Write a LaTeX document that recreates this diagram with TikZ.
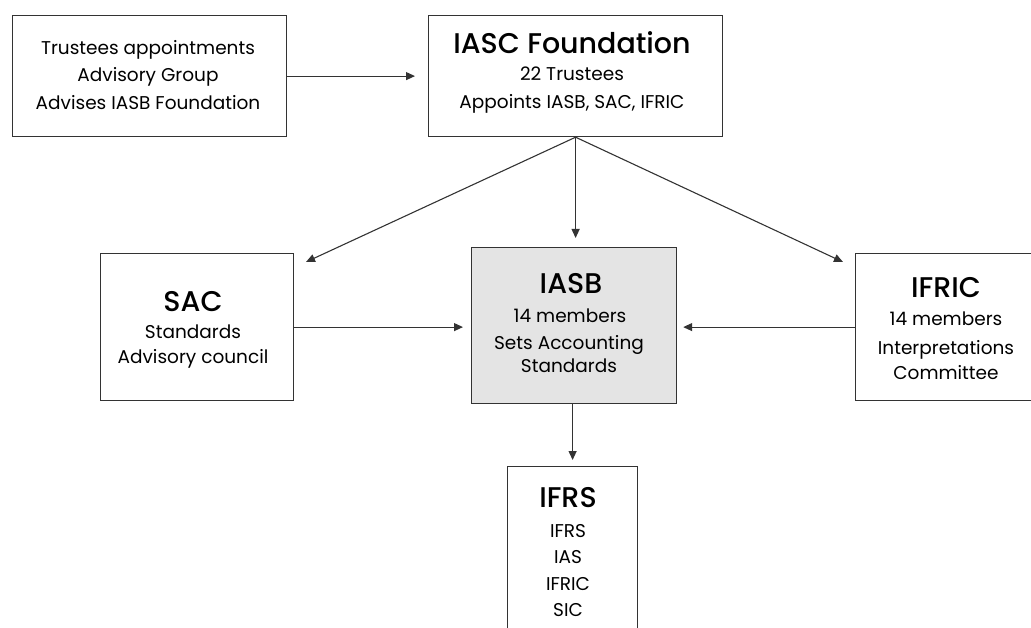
\documentclass[tikz,border=0pt]{standalone}
\usepackage{fontspec}
\setmainfont{Poppins}
\newfontfamily\headfont{Poppins Medium}
\usetikzlibrary{arrows.meta,calc}
\definecolor{linegray}{HTML}{333333}
\definecolor{boxfill}{HTML}{E4E4E4}
\begin{document}
\begin{tikzpicture}[x=1pt,y=-1pt,
  box/.style={draw=linegray,line width=1.2pt,anchor=north west,inner sep=0pt},
  arr/.style={draw=linegray,line width=1.1pt,-{Triangle[length=9pt,width=8pt]}},
  body/.style={anchor=base,inner sep=0pt,font=\fontsize{18.5}{22}\selectfont},
  head/.style={anchor=base,inner sep=0pt,font=\headfont\fontsize{28.5}{32}\selectfont}]
\useasboundingbox (0,0) rectangle (1031,628);
\clip (0,0) rectangle (1031,628);
% boxes
\node[box,minimum width=274pt,minimum height=121pt] (trust) at (12,15) {};
\node[box,minimum width=294pt,minimum height=121pt] (iasc) at (428,15) {};
\node[box,minimum width=193pt,minimum height=147pt] (sac) at (100,253) {};
\node[box,fill=boxfill,minimum width=205pt,minimum height=156pt] (iasb) at (471,247) {};
\node[box,minimum width=200pt,minimum height=147pt] (ifric) at (855,253) {};
\node[box,minimum width=130pt,minimum height=200pt] (ifrs) at (507,466) {};
% texts
\node[body] (t1) at (148,55) {Trustees appointments};
\node[body] (t2) at (148,82) {Advisory Group};
\node[body] (t3) at (148,110) {Advises IASB Foundation};
\node[head] (c1) at (572,54) {IASC Foundation};
\node[body] (c2) at (572,81) {22 Trustees};
\node[body] (c3) at (572,109) {Appoints IASB, SAC, IFRIC};
\node[head] (s1) at (193,312) {SAC};
\node[body] (s2) at (193,338) {Standards};
\node[body] (s3) at (193,363) {Advisory council};
\node[head] (b1) at (571,294) {IASB};
\node[body] (b2) at (570,323) {14 members};
\node[body] (b3) at (569,350) {Sets Accounting};
\node[body] (b4) at (569,373) {Standards};
\node[head] (f1) at (946,298) {IFRIC};
\node[body] (f2) at (946,326) {14 members};
\node[body] (f3) at (946,355) {Interpretations};
\node[body] (f4) at (946,379) {Committee};
\node[head] (r1) at (568,507) {IFRS};
\node[body] (r2) at (568,537) {IFRS};
\node[body] (r3) at (568,563) {IAS};
\node[body] (r4) at (568,590) {IFRIC};
\node[body] (r5) at (568,616) {SIC};
% connectors
\coordinate (sactip) at (306,262);
\coordinate (ifrictip) at (843,262);
\draw[arr,shorten >=13pt] (trust.east) -- (trust.east -| iasc.west);
\draw[arr] (iasc.south) -- (sactip);
\draw[arr] (iasc.south) -- (ifrictip);
\draw[arr,shorten >=9pt] (iasc.south) -- (iasc.south |- iasb.north);
\draw[arr,shorten >=8pt] (sac.east) -- (sac.east -| iasb.west);
\draw[arr,shorten >=6pt] (ifric.west) -- (ifric.west -| iasb.east);
\draw[arr,shorten >=6pt] (ifrs.north |- iasb.south) -- (ifrs.north);
\end{tikzpicture}
\end{document}
